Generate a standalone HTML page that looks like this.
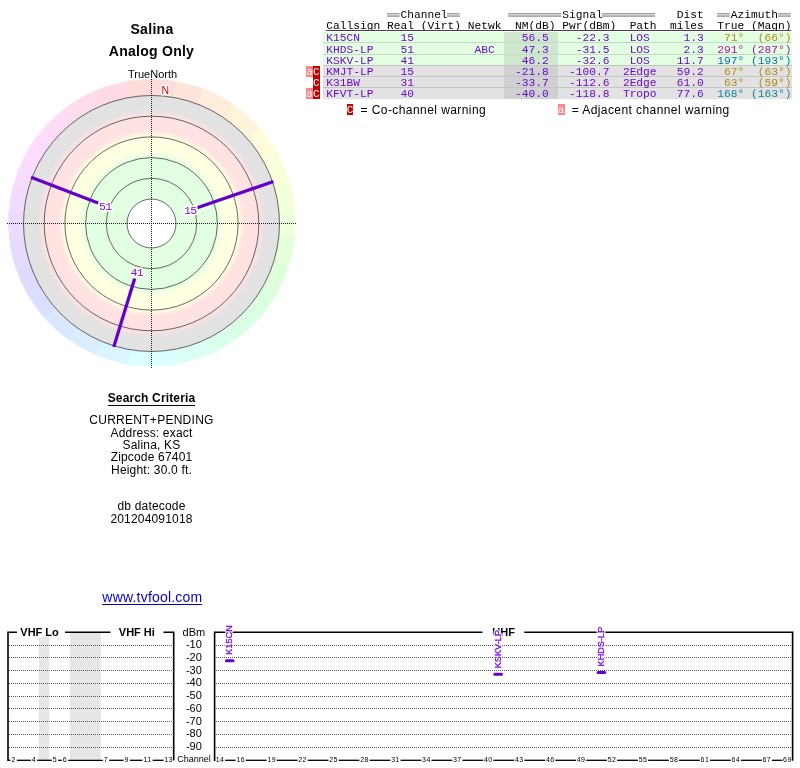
<!DOCTYPE html>
<html><head><meta charset="utf-8"><title>TV Fool</title>
<style>
html,body{margin:0;padding:0;background:#fff}
body{width:800px;height:768px;position:relative;overflow:hidden;font-family:"Liberation Sans",sans-serif;color:#000}
.abs{position:absolute}
.sans{font-family:"Liberation Sans",sans-serif;white-space:nowrap}
.ctr{left:1.5px;width:300px;text-align:center}
.mono{font-family:"Liberation Mono",monospace;font-size:11.24px;line-height:12px;white-space:pre;letter-spacing:0}
.mono i{font-style:normal;color:transparent}
.eq{height:3.8px;background:linear-gradient(180deg,#989898 0,#989898 1.4px,#d8d8d8 1.4px,#d8d8d8 2.4px,#989898 2.4px,#989898 3.8px)}
.ico{font-family:"Liberation Mono",monospace;font-size:11px;color:#fff;text-align:center;overflow:hidden;box-sizing:border-box;padding-top:0.9px}
svg text{font-family:"Liberation Sans",sans-serif}
.rl{font-family:"Liberation Mono",monospace;font-size:11.5px;letter-spacing:-0.7px;fill:#7a10e0}
.nn{font-size:10.5px;fill:#e00000}
.halo{stroke:#fff;stroke-width:3px;stroke-linejoin:round;fill:#fff}
.halo2{stroke:#fff;stroke-width:2.8px;stroke-linejoin:round;fill:#fff;opacity:0.8}
.dot{stroke:#555;stroke-width:1;stroke-dasharray:1 1}
.bd{fill:none;stroke:#000;stroke-width:1.6}
.ax{stroke:#000;stroke-width:1.3}
.bl{font-size:11px;font-weight:bold}
.dl{font-size:11px}
.cl{font-size:9px}
.tl{font-size:7px;letter-spacing:0.4px}
.vl{font-family:"Liberation Sans",sans-serif;font-size:9px;fill:#7a0cec;letter-spacing:0.12px}
.vs{stroke:#7a0cec;stroke-width:0.3px}
</style></head><body><div id="w" style="position:absolute;left:0;top:0;width:800px;height:768px;will-change:transform">
<svg class="abs" style="left:0;top:0" width="310" height="380" viewBox="0 0 310 380">
<defs><radialGradient id="rg" gradientUnits="userSpaceOnUse" cx="151.5" cy="223.5" r="128.0">
<stop offset="19.06%" stop-color="#ffffff"/>
<stop offset="19.22%" stop-color="#e2ffe2"/>
<stop offset="51.56%" stop-color="#e2ffe2"/>
<stop offset="56.64%" stop-color="#ffffe2"/>
<stop offset="67.66%" stop-color="#ffffe2"/>
<stop offset="72.66%" stop-color="#ffe2e2"/>
<stop offset="83.83%" stop-color="#ffe2e2"/>
<stop offset="89.06%" stop-color="#e2e2e2"/>
<stop offset="100%" stop-color="#e2e2e2"/>
</radialGradient></defs>
<path d="M129.42 364.63A143.7 143.7 0 0 1 94.37 354.38L100.66 339.88A127 127 0 0 0 131.63 348.94Z" fill="#dbf5ff"/>
<path d="M95.75 354.98A143.7 143.7 0 0 1 68.25 339.54L77.57 326.76A127 127 0 0 0 101.88 340.40Z" fill="#dbeeff"/>
<path d="M69.48 340.41A143.7 143.7 0 0 1 43.12 316.60L55.36 306.48A127 127 0 0 0 78.66 327.53Z" fill="#dbe6ff"/>
<path d="M44.11 317.73A143.7 143.7 0 0 1 26.83 293.46L40.96 286.04A127 127 0 0 0 56.24 307.49Z" fill="#dbdfff"/>
<path d="M27.58 294.77A143.7 143.7 0 0 1 15.16 266.87L30.65 262.53A127 127 0 0 0 41.63 287.19Z" fill="#dfdbff"/>
<path d="M15.63 268.30A143.7 143.7 0 0 1 9.12 238.97L25.32 237.88A127 127 0 0 0 31.06 263.80Z" fill="#e6dbff"/>
<path d="M9.30 240.46A143.7 143.7 0 0 1 8.64 211.43L24.89 213.54A127 127 0 0 0 25.47 239.20Z" fill="#ecdbff"/>
<path d="M8.53 212.93A143.7 143.7 0 0 1 13.23 185.02L28.94 190.20A127 127 0 0 0 24.79 214.86Z" fill="#f3dbff"/>
<path d="M12.84 186.48A143.7 143.7 0 0 1 23.30 158.58L37.84 166.83A127 127 0 0 0 28.60 191.49Z" fill="#f9dbff"/>
<path d="M22.63 159.93A143.7 143.7 0 0 1 42.63 129.37L54.93 141.02A127 127 0 0 0 37.26 168.03Z" fill="#ffdbfd"/>
<path d="M41.66 130.52A143.7 143.7 0 0 1 68.45 105.71L77.75 120.11A127 127 0 0 0 54.07 142.04Z" fill="#ffdbf5"/>
<path d="M67.23 106.59A143.7 143.7 0 0 1 99.23 89.00L104.95 105.34A127 127 0 0 0 76.67 120.89Z" fill="#ffdbec"/>
<path d="M97.84 89.56A143.7 143.7 0 0 1 126.70 81.23L129.23 98.47A127 127 0 0 0 103.72 105.83Z" fill="#ffdbe5"/>
<path d="M125.22 81.50A143.7 143.7 0 0 1 176.61 81.14L173.33 98.39A127 127 0 0 0 127.92 98.71Z" fill="#ffdbdc"/>
<path d="M175.12 80.89A143.7 143.7 0 0 1 204.10 88.82L197.63 105.18A127 127 0 0 0 172.02 98.17Z" fill="#ffe4db"/>
<path d="M202.69 88.28A143.7 143.7 0 0 1 234.94 105.42L224.89 119.85A127 127 0 0 0 196.39 104.70Z" fill="#ffecdb"/>
<path d="M233.71 104.56A143.7 143.7 0 0 1 260.84 128.99L247.78 140.68A127 127 0 0 0 223.80 119.09Z" fill="#fff4db"/>
<path d="M259.86 127.86A143.7 143.7 0 0 1 280.28 158.13L264.96 166.44A127 127 0 0 0 246.91 139.68Z" fill="#fffddb"/>
<path d="M279.59 156.79A143.7 143.7 0 0 1 290.44 184.54L273.94 189.77A127 127 0 0 0 264.35 165.25Z" fill="#faffdb"/>
<path d="M290.03 183.09A143.7 143.7 0 0 1 295.12 210.93L278.07 213.09A127 127 0 0 0 273.58 188.49Z" fill="#f3ffdb"/>
<path d="M294.99 209.43A143.7 143.7 0 0 1 294.73 238.47L277.73 237.44A127 127 0 0 0 277.96 211.77Z" fill="#edffdb"/>
<path d="M294.89 236.97A143.7 143.7 0 0 1 288.80 266.39L272.49 262.11A127 127 0 0 0 277.87 236.11Z" fill="#e6ffdb"/>
<path d="M289.25 264.95A143.7 143.7 0 0 1 277.22 293.02L262.25 285.65A127 127 0 0 0 272.89 260.84Z" fill="#dfffdb"/>
<path d="M277.95 291.71A143.7 143.7 0 0 1 261.01 316.22L247.93 306.15A127 127 0 0 0 262.90 284.49Z" fill="#dbffde"/>
<path d="M261.98 315.07A143.7 143.7 0 0 1 235.96 339.25L225.79 326.51A127 127 0 0 0 248.79 305.13Z" fill="#dbffe5"/>
<path d="M237.17 338.36A143.7 143.7 0 0 1 209.89 354.18L202.75 339.70A127 127 0 0 0 226.86 325.72Z" fill="#dbffed"/>
<path d="M211.26 353.57A143.7 143.7 0 0 1 176.36 364.30L173.12 348.65A127 127 0 0 0 203.96 339.16Z" fill="#dbfff5"/>
<path d="M177.84 364.04A143.7 143.7 0 0 1 127.94 364.39L130.32 348.72A127 127 0 0 0 174.43 348.41Z" fill="#dbffff"/>
<circle cx="151.5" cy="223.5" r="128" fill="url(#rg)"/>
<circle cx="151.5" cy="223.5" r="24.5" fill="none" stroke="#2a2a2a" stroke-width="0.7"/>
<circle cx="151.5" cy="223.5" r="45.2" fill="none" stroke="#2a2a2a" stroke-width="0.7"/>
<circle cx="151.5" cy="223.5" r="65.9" fill="none" stroke="#2a2a2a" stroke-width="0.7"/>
<circle cx="151.5" cy="223.5" r="86.6" fill="none" stroke="#2a2a2a" stroke-width="0.7"/>
<circle cx="151.5" cy="223.5" r="107.3" fill="none" stroke="#2a2a2a" stroke-width="0.7"/>
<circle cx="151.5" cy="223.5" r="128" fill="none" stroke="#2a2a2a" stroke-width="0.7"/>
<line x1="7" y1="223.5" x2="296" y2="223.5" stroke="#1a1a1a" stroke-width="1" stroke-dasharray="1 1"/>
<line x1="151.5" y1="79" x2="151.5" y2="368.5" stroke="#1a1a1a" stroke-width="1" stroke-dasharray="1 1"/>
<line x1="273.47" y1="181.50" x2="197.17" y2="207.78" stroke="#6400c8" stroke-width="3.3" stroke-linecap="butt"/>
<text x="190.17" y="213.98" text-anchor="middle" class="rl halo">15</text><text x="190.17" y="213.98" text-anchor="middle" class="rl">15</text>
<line x1="31.07" y1="177.27" x2="98.10" y2="203.00" stroke="#6400c8" stroke-width="3.3" stroke-linecap="butt"/>
<text x="105.29" y="209.56" text-anchor="middle" class="rl halo">51</text><text x="105.29" y="209.56" text-anchor="middle" class="rl">51</text>
<line x1="113.78" y1="346.86" x2="134.69" y2="278.49" stroke="#6400c8" stroke-width="3.3" stroke-linecap="butt"/>
<text x="136.74" y="275.59" text-anchor="middle" class="rl halo">41</text><text x="136.74" y="275.59" text-anchor="middle" class="rl">41</text>
<text x="165.3" y="94.3" text-anchor="middle" class="nn halo">N</text>
<text x="165.3" y="94.3" text-anchor="middle" class="nn">N</text>
</svg>
<div class="abs sans ctr" style="top:20.57px;font-size:14px;line-height:17px;font-weight:bold;letter-spacing:0.3px;left:2px">Salina</div>
<div class="abs sans ctr" style="top:43.17px;font-size:14px;line-height:17px;font-weight:bold;letter-spacing:0.26px">Analog Only</div>
<div class="abs sans ctr" style="top:68.36px;font-size:11px;line-height:13px;left:2.6px">TrueNorth</div>
<div class="abs sans ctr" style="top:390.63px;font-size:12px;line-height:14px;font-weight:bold;letter-spacing:0.15px"><span style="border-bottom:1px solid #000;display:inline-block;line-height:13.2px">Search Criteria</span></div>
<div class="abs sans ctr" style="top:412.53px;font-size:12px;line-height:14px;letter-spacing:0.27px">CURRENT+PENDING</div>
<div class="abs sans ctr" style="top:425.83px;font-size:12px;line-height:14px;letter-spacing:0.18px">Address: exact</div>
<div class="abs sans ctr" style="top:438.03px;font-size:12px;line-height:14px;letter-spacing:0.18px">Salina, KS</div>
<div class="abs sans ctr" style="top:450.03px;font-size:12px;line-height:14px;letter-spacing:0.18px">Zipcode 67401</div>
<div class="abs sans ctr" style="top:462.83px;font-size:12px;line-height:14px;letter-spacing:0.18px">Height: 30.0 ft.</div>
<div class="abs sans ctr" style="top:498.83px;font-size:12px;line-height:14px;letter-spacing:0.18px">db datecode</div>
<div class="abs sans ctr" style="top:511.73px;font-size:12px;line-height:14px;letter-spacing:0.18px">201204091018</div>
<div class="abs sans ctr" style="top:588.77px;font-size:14px;line-height:17px;color:#0000d8;letter-spacing:0.2px;left:2.4px"><span style="border-bottom:1px solid #0000d8;display:inline-block;line-height:14.6px">www.tvfool.com</span></div>
<div class="abs" style="left:323px;top:32.3px;width:469px;height:10.35px;background:#e2ffe2"></div>
<div class="abs" style="left:504px;top:32.3px;width:53.5px;height:10.35px;background:#cfe6cf"></div>
<div class="abs" style="left:323px;top:42.65px;width:469px;height:11.85px;background:#e2ffe2"></div>
<div class="abs" style="left:504px;top:42.65px;width:53.5px;height:11.85px;background:#cfe6cf"></div>
<div class="abs" style="left:323px;top:42.15px;width:469px;height:1px;background:#c4dcc4"></div>
<div class="abs" style="left:323px;top:54.5px;width:469px;height:11.10px;background:#e2ffe2"></div>
<div class="abs" style="left:504px;top:54.5px;width:53.5px;height:11.10px;background:#cfe6cf"></div>
<div class="abs" style="left:323px;top:54.00px;width:469px;height:1px;background:#c4dcc4"></div>
<div class="abs" style="left:323px;top:65.6px;width:469px;height:11.00px;background:#e2e2e2"></div>
<div class="abs" style="left:504px;top:65.6px;width:53.5px;height:11.00px;background:#d0d0d0"></div>
<div class="abs" style="left:323px;top:65.10px;width:469px;height:1px;background:#c4c4c4"></div>
<div class="abs" style="left:323px;top:76.6px;width:469px;height:10.90px;background:#e2e2e2"></div>
<div class="abs" style="left:504px;top:76.6px;width:53.5px;height:10.90px;background:#d0d0d0"></div>
<div class="abs" style="left:323px;top:76.10px;width:469px;height:1px;background:#c4c4c4"></div>
<div class="abs" style="left:323px;top:87.5px;width:469px;height:11.60px;background:#e2e2e2"></div>
<div class="abs" style="left:504px;top:87.5px;width:53.5px;height:11.60px;background:#d0d0d0"></div>
<div class="abs" style="left:323px;top:87.00px;width:469px;height:1px;background:#c4c4c4"></div>
<div class="abs mono " style="left:326.25px;top:8.55px;color:#000">         <i>==</i>Channel<i>==</i>       <i>========</i>Signal<i>========</i>   Dist  <i>==</i>Azimuth<i>==</i></div>
<svg class="abs" style="left:386.56px;top:12px;overflow:visible" width="13.49" height="6"><rect x="0" y="1.1" width="12.69" height="1.4" fill="#989898"/><rect x="0" y="2.5" width="12.69" height="0.9" fill="#dadada"/><rect x="0" y="3.4" width="12.69" height="1.4" fill="#989898"/></svg>
<svg class="abs" style="left:447.26px;top:12px;overflow:visible" width="13.49" height="6"><rect x="0" y="1.1" width="12.69" height="1.4" fill="#989898"/><rect x="0" y="2.5" width="12.69" height="0.9" fill="#dadada"/><rect x="0" y="3.4" width="12.69" height="1.4" fill="#989898"/></svg>
<svg class="abs" style="left:507.97px;top:12px;overflow:visible" width="53.96" height="6"><rect x="0" y="1.1" width="53.16" height="1.4" fill="#989898"/><rect x="0" y="2.5" width="53.16" height="0.9" fill="#dadada"/><rect x="0" y="3.4" width="53.16" height="1.4" fill="#989898"/></svg>
<svg class="abs" style="left:602.40px;top:12px;overflow:visible" width="53.96" height="6"><rect x="0" y="1.1" width="53.16" height="1.4" fill="#989898"/><rect x="0" y="2.5" width="53.16" height="0.9" fill="#dadada"/><rect x="0" y="3.4" width="53.16" height="1.4" fill="#989898"/></svg>
<svg class="abs" style="left:717.06px;top:12px;overflow:visible" width="13.49" height="6"><rect x="0" y="1.1" width="12.69" height="1.4" fill="#989898"/><rect x="0" y="2.5" width="12.69" height="0.9" fill="#dadada"/><rect x="0" y="3.4" width="12.69" height="1.4" fill="#989898"/></svg>
<svg class="abs" style="left:777.76px;top:12px;overflow:visible" width="13.49" height="6"><rect x="0" y="1.1" width="12.69" height="1.4" fill="#989898"/><rect x="0" y="2.5" width="12.69" height="0.9" fill="#dadada"/><rect x="0" y="3.4" width="12.69" height="1.4" fill="#989898"/></svg>
<div class="abs mono " style="left:326.25px;top:19.55px;color:#000">Callsign Real (Virt) Netwk  NM(dB) Pwr(dBm)  Path  miles  True (Magn)</div>
<div class="abs" style="left:326px;top:30px;width:464.5px;height:1px;background:#444"></div>
<div class="abs mono " style="left:326.25px;top:32.15px;color:#6a0ad0">K15CN      15                56.5    -22.3   LOS     1.3  <span style="color:#b08a10"> 71°  (66°)</span></div>
<div class="abs mono " style="left:326.25px;top:43.95px;color:#6a0ad0">KHDS-LP    51         ABC    47.3    -31.5   LOS     2.3  <span style="color:#b010b0">291° (287°)</span></div>
<div class="abs mono " style="left:326.25px;top:55.25px;color:#6a0ad0">KSKV-LP    41                46.2    -32.6   LOS    11.7  <span style="color:#1070b0">197° (193°)</span></div>
<div class="abs mono " style="left:326.25px;top:66.15px;color:#6a0ad0">KMJT-LP    15               -21.8   -100.7  2Edge   59.2  <span style="color:#b08a10"> 67°  (63°)</span></div>
<div class="abs ico" style="left:306.1px;top:66.10px;width:6.9px;height:10.60px;background:#ff8484;line-height:10.60px">a</div>
<div class="abs ico" style="left:313px;top:66.10px;width:6.8px;height:10.60px;background:#c40000;line-height:10.60px">C</div>
<div class="abs mono " style="left:326.25px;top:77.15px;color:#6a0ad0">K31BW      31               -33.7   -112.6  2Edge   61.0  <span style="color:#b08a10"> 63°  (59°)</span></div>
<div class="abs ico" style="left:313px;top:77.10px;width:6.8px;height:10.50px;background:#c40000;line-height:10.50px">C</div>
<div class="abs mono " style="left:326.25px;top:88.05px;color:#6a0ad0">KFVT-LP    40               -40.0   -118.8  Tropo   77.6  <span style="color:#1088a0">168° (163°)</span></div>
<div class="abs ico" style="left:306.1px;top:88.00px;width:6.9px;height:11.20px;background:#ff8484;line-height:11.20px">a</div>
<div class="abs ico" style="left:313px;top:88.00px;width:6.8px;height:11.20px;background:#c40000;line-height:11.20px">C</div>
<div class="abs ico" style="left:346.7px;top:103.8px;width:6.6px;height:11.2px;background:#c40000;line-height:11.2px">C</div>
<div class="abs sans" style="left:360.5px;top:103.8px;font-size:12px;letter-spacing:0.43px;line-height:13px">= Co-channel warning</div>
<div class="abs ico" style="left:557.5px;top:103.8px;width:7px;height:11.2px;background:#ff8484;line-height:11.2px">a</div>
<div class="abs sans" style="left:571.7px;top:103.8px;font-size:12px;letter-spacing:0.42px;line-height:13px">= Adjacent channel warning</div>
<svg class="abs" style="left:0;top:615px" width="800" height="153" viewBox="0 615 800 153"><rect x="38.8" y="637" width="10.5" height="123.0" fill="#e6e6e6"/>
<rect x="70" y="632" width="30.8" height="128.0" fill="#e6e6e6"/>
<line x1="9" y1="645.50" x2="172" y2="645.50" class="dot"/>
<line x1="216" y1="645.50" x2="792" y2="645.50" class="dot"/>
<line x1="9" y1="657.50" x2="172" y2="657.50" class="dot"/>
<line x1="216" y1="657.50" x2="792" y2="657.50" class="dot"/>
<line x1="9" y1="670.50" x2="172" y2="670.50" class="dot"/>
<line x1="216" y1="670.50" x2="792" y2="670.50" class="dot"/>
<line x1="9" y1="683.50" x2="172" y2="683.50" class="dot"/>
<line x1="216" y1="683.50" x2="792" y2="683.50" class="dot"/>
<line x1="9" y1="696.50" x2="172" y2="696.50" class="dot"/>
<line x1="216" y1="696.50" x2="792" y2="696.50" class="dot"/>
<line x1="9" y1="708.50" x2="172" y2="708.50" class="dot"/>
<line x1="216" y1="708.50" x2="792" y2="708.50" class="dot"/>
<line x1="9" y1="721.50" x2="172" y2="721.50" class="dot"/>
<line x1="216" y1="721.50" x2="792" y2="721.50" class="dot"/>
<line x1="9" y1="734.50" x2="172" y2="734.50" class="dot"/>
<line x1="216" y1="734.50" x2="792" y2="734.50" class="dot"/>
<line x1="9" y1="747.50" x2="172" y2="747.50" class="dot"/>
<line x1="216" y1="747.50" x2="792" y2="747.50" class="dot"/>
<path d="M8 761.0V632.3H17M65 632.3H110.5M163.5 632.3H173.7V760.5" class="bd"/>
<path d="M214.6 761.0V632.3H482.5M524.3 632.3H792.6V760.5" class="bd"/>
<text x="20.3" y="636.4" class="bl">VHF Lo</text>
<text x="118.8" y="636.4" class="bl">VHF Hi</text>
<text x="492.3" y="636.4" class="bl">UHF</text>
<text x="193.9" y="635.8" text-anchor="middle" class="dl">dBm</text>
<text x="193.9" y="648.40" text-anchor="middle" class="dl">-10</text>
<text x="193.9" y="661.40" text-anchor="middle" class="dl">-20</text>
<text x="193.9" y="674.40" text-anchor="middle" class="dl">-30</text>
<text x="193.9" y="686.40" text-anchor="middle" class="dl">-40</text>
<text x="193.9" y="699.40" text-anchor="middle" class="dl">-50</text>
<text x="193.9" y="712.40" text-anchor="middle" class="dl">-60</text>
<text x="193.9" y="725.40" text-anchor="middle" class="dl">-70</text>
<text x="193.9" y="737.40" text-anchor="middle" class="dl">-80</text>
<text x="193.9" y="750.40" text-anchor="middle" class="dl">-90</text>
<text x="194" y="761.6" text-anchor="middle" class="cl">Channel</text>
<line x1="8.00" y1="760.3" x2="10.55" y2="760.3" class="ax"/>
<text x="13.70" y="762.0" text-anchor="middle" class="tl">2</text>
<line x1="16.85" y1="760.3" x2="30.85" y2="760.3" class="ax"/>
<text x="34.00" y="762.0" text-anchor="middle" class="tl">4</text>
<line x1="37.15" y1="760.3" x2="51.85" y2="760.3" class="ax"/>
<text x="55.00" y="762.0" text-anchor="middle" class="tl">5</text>
<line x1="58.15" y1="760.3" x2="61.85" y2="760.3" class="ax"/>
<text x="65.00" y="762.0" text-anchor="middle" class="tl">6</text>
<line x1="68.15" y1="760.3" x2="102.85" y2="760.3" class="ax"/>
<text x="106.00" y="762.0" text-anchor="middle" class="tl">7</text>
<line x1="109.15" y1="760.3" x2="123.55" y2="760.3" class="ax"/>
<text x="126.70" y="762.0" text-anchor="middle" class="tl">9</text>
<line x1="129.85" y1="760.3" x2="142.40" y2="760.3" class="ax"/>
<text x="147.50" y="762.0" text-anchor="middle" class="tl">11</text>
<line x1="152.60" y1="760.3" x2="163.50" y2="760.3" class="ax"/>
<text x="168.60" y="762.0" text-anchor="middle" class="tl">13</text>
<text x="220.10" y="762.0" text-anchor="middle" class="tl">14</text>
<line x1="225.20" y1="760.3" x2="235.63" y2="760.3" class="ax"/>
<text x="240.73" y="762.0" text-anchor="middle" class="tl">16</text>
<line x1="245.83" y1="760.3" x2="266.57" y2="760.3" class="ax"/>
<text x="271.68" y="762.0" text-anchor="middle" class="tl">19</text>
<line x1="276.78" y1="760.3" x2="297.52" y2="760.3" class="ax"/>
<text x="302.62" y="762.0" text-anchor="middle" class="tl">22</text>
<line x1="307.72" y1="760.3" x2="328.46" y2="760.3" class="ax"/>
<text x="333.56" y="762.0" text-anchor="middle" class="tl">25</text>
<line x1="338.67" y1="760.3" x2="359.41" y2="760.3" class="ax"/>
<text x="364.51" y="762.0" text-anchor="middle" class="tl">28</text>
<line x1="369.61" y1="760.3" x2="390.35" y2="760.3" class="ax"/>
<text x="395.45" y="762.0" text-anchor="middle" class="tl">31</text>
<line x1="400.56" y1="760.3" x2="421.30" y2="760.3" class="ax"/>
<text x="426.40" y="762.0" text-anchor="middle" class="tl">34</text>
<line x1="431.50" y1="760.3" x2="452.24" y2="760.3" class="ax"/>
<text x="457.34" y="762.0" text-anchor="middle" class="tl">37</text>
<line x1="462.44" y1="760.3" x2="483.19" y2="760.3" class="ax"/>
<text x="488.29" y="762.0" text-anchor="middle" class="tl">40</text>
<line x1="493.39" y1="760.3" x2="514.13" y2="760.3" class="ax"/>
<text x="519.24" y="762.0" text-anchor="middle" class="tl">43</text>
<line x1="524.34" y1="760.3" x2="545.08" y2="760.3" class="ax"/>
<text x="550.18" y="762.0" text-anchor="middle" class="tl">46</text>
<line x1="555.28" y1="760.3" x2="576.02" y2="760.3" class="ax"/>
<text x="581.12" y="762.0" text-anchor="middle" class="tl">49</text>
<line x1="586.23" y1="760.3" x2="606.97" y2="760.3" class="ax"/>
<text x="612.07" y="762.0" text-anchor="middle" class="tl">52</text>
<line x1="617.17" y1="760.3" x2="637.91" y2="760.3" class="ax"/>
<text x="643.01" y="762.0" text-anchor="middle" class="tl">55</text>
<line x1="648.12" y1="760.3" x2="668.86" y2="760.3" class="ax"/>
<text x="673.96" y="762.0" text-anchor="middle" class="tl">58</text>
<line x1="679.06" y1="760.3" x2="699.80" y2="760.3" class="ax"/>
<text x="704.90" y="762.0" text-anchor="middle" class="tl">61</text>
<line x1="710.00" y1="760.3" x2="730.75" y2="760.3" class="ax"/>
<text x="735.85" y="762.0" text-anchor="middle" class="tl">64</text>
<line x1="740.95" y1="760.3" x2="761.69" y2="760.3" class="ax"/>
<text x="766.79" y="762.0" text-anchor="middle" class="tl">67</text>
<line x1="771.89" y1="760.3" x2="782.32" y2="760.3" class="ax"/>
<text x="787.42" y="762.0" text-anchor="middle" class="tl">69</text>
<line x1="792.52" y1="760.3" x2="793.00" y2="760.3" class="ax"/>
<line x1="226.42" y1="660.74" x2="233.03" y2="660.74" stroke="#6600cc" stroke-width="3" stroke-linecap="round"/>
<text transform="translate(232.32 654.74) rotate(-90) scale(1.0 1.08)" class="vl halo2">K15CN</text>
<text transform="translate(232.22 654.74) rotate(-90) scale(1.0 1.08)" class="vl vs">K15CN</text>
<line x1="494.87" y1="674.28" x2="501.47" y2="674.28" stroke="#6600cc" stroke-width="3" stroke-linecap="round"/>
<text transform="translate(500.77 668.28) rotate(-90) scale(1.0 1.08)" class="vl halo2">KSKV-LP</text>
<text transform="translate(500.67 668.28) rotate(-90) scale(1.0 1.08)" class="vl vs">KSKV-LP</text>
<line x1="598.12" y1="672.48" x2="604.72" y2="672.48" stroke="#6600cc" stroke-width="3" stroke-linecap="round"/>
<text transform="translate(604.02 666.48) rotate(-90) scale(1.0 1.08)" class="vl halo2">KHDS-LP</text>
<text transform="translate(603.92 666.48) rotate(-90) scale(1.0 1.08)" class="vl vs">KHDS-LP</text></svg>
</div></body></html>
